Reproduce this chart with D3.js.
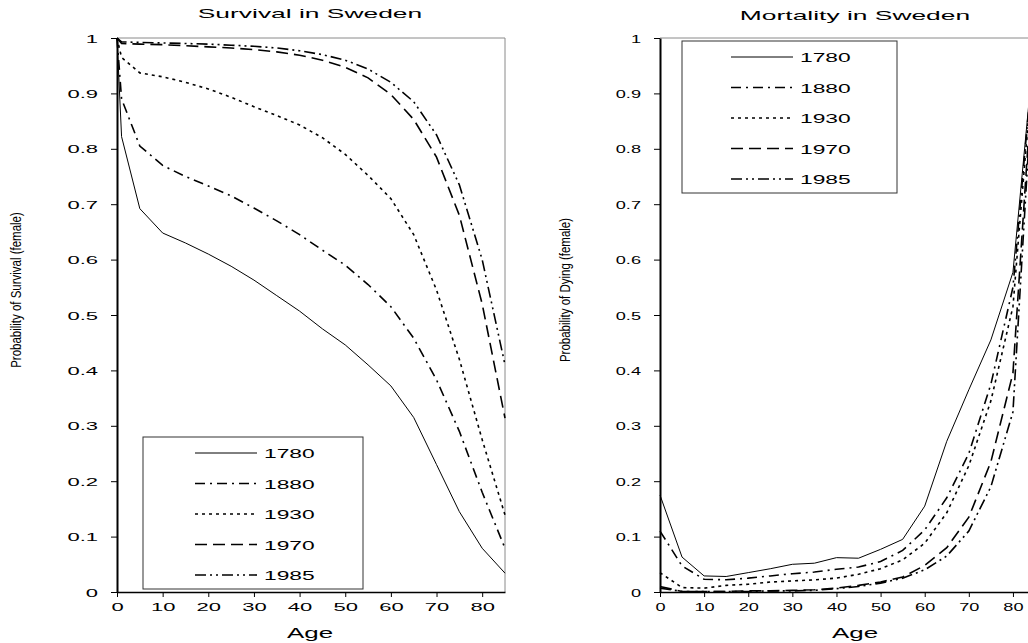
<!DOCTYPE html>
<html>
<head>
<meta charset="utf-8">
<script src="https://cdn.jsdelivr.net/npm/d3@7"></script>
<style>
  body { margin: 0; background: #fff; }
  svg { display: block; font-family: "Liberation Sans", Arial, sans-serif; }
</style>
</head>
<body>
<div id="chart"></div>
<script>
// ages used in the survival table and in the mortality table
const survivalAges = [0, 1, 5, 10, 15, 20, 25, 30, 35, 40, 45, 50, 55, 60, 65, 70, 75, 80, 85];
const mortalityAges = [0, 5, 10, 15, 20, 25, 30, 35, 40, 45, 50, 55, 60, 65, 70, 75, 80, 85];

const years = ["1780", "1880", "1930", "1970", "1985"];

// probability of survival (female)
const survival1780 = [1, 0.822, 0.692, 0.648, 0.630, 0.610, 0.588, 0.563, 0.535, 0.507, 0.475, 0.446, 0.410, 0.372, 0.315, 0.230, 0.145, 0.079, 0.034];
const survival1880 = [1, 0.890, 0.805, 0.770, 0.750, 0.733, 0.715, 0.693, 0.670, 0.645, 0.617, 0.590, 0.555, 0.515, 0.458, 0.383, 0.290, 0.180, 0.079];
const survival1930 = [1, 0.965, 0.937, 0.930, 0.920, 0.908, 0.893, 0.876, 0.860, 0.843, 0.820, 0.790, 0.752, 0.710, 0.645, 0.545, 0.420, 0.275, 0.139];
const survival1970 = [1, 0.990, 0.989, 0.988, 0.986, 0.984, 0.982, 0.979, 0.975, 0.969, 0.960, 0.947, 0.928, 0.898, 0.853, 0.785, 0.680, 0.520, 0.314];
const survival1985 = [1, 0.993, 0.992, 0.991, 0.990, 0.989, 0.987, 0.985, 0.982, 0.977, 0.970, 0.960, 0.944, 0.920, 0.885, 0.825, 0.735, 0.600, 0.410];

// probability of dying (female)
const mortality1780 = [0.175, 0.063, 0.029, 0.028, 0.035, 0.042, 0.050, 0.052, 0.062, 0.061, 0.077, 0.095, 0.155, 0.272, 0.365, 0.455, 0.577, 1];
const mortality1880 = [0.110, 0.047, 0.023, 0.022, 0.025, 0.029, 0.033, 0.036, 0.041, 0.045, 0.055, 0.075, 0.112, 0.170, 0.250, 0.375, 0.550, 1];
const mortality1930 = [0.035, 0.008, 0.007, 0.012, 0.014, 0.018, 0.020, 0.022, 0.025, 0.032, 0.042, 0.058, 0.088, 0.143, 0.228, 0.345, 0.515, 1];
const mortality1970 = [0.010, 0.001, 0.001, 0.001, 0.002, 0.002, 0.003, 0.004, 0.007, 0.012, 0.018, 0.027, 0.048, 0.080, 0.135, 0.235, 0.395, 1];
const mortality1985 = [0.007, 0.001, 0.001, 0.001, 0.001, 0.002, 0.002, 0.003, 0.006, 0.010, 0.016, 0.025, 0.040, 0.065, 0.110, 0.190, 0.325, 1];

const yTicks = [0, 0.1, 0.2, 0.3, 0.4, 0.5, 0.6, 0.7, 0.8, 0.9, 1];
const xTicks = [0, 10, 20, 30, 40, 50, 60, 70, 80];

// line styles per year
const dashes = {
    "1780": null,
    "1880": "10,5,2,5",
    "1930": "3,4",
    "1970": "12,6",
    "1985": "11,4,2,4,2,4"
};

const W = 1028, H = 643;

const svg = d3.select("#chart").append("svg")
    .attr("width", W)
    .attr("height", H);

// draws text stretched sideways like the original export
function wideText(g, x, y, str, size, sx, anchor) {
    return g.append("text")
        .attr("transform", "translate(" + x + "," + y + ") scale(" + sx + ",1)")
        .attr("text-anchor", anchor || "middle")
        .style("font-size", size + "px")
        .attr("fill", "#000")
        .text(str);
}

function drawPanel(p) {
    let x = d3.scaleLinear().domain([0, 85]).range([p.left, p.right]);
    let y = d3.scaleLinear().domain([0, 1]).range([592, 38]);

    let g = svg.append("g");

    // grey frame (top and right)
    g.append("path")
        .attr("d", "M" + x(0) + "," + y(1) + "H" + x(85) + "V" + y(0))
        .attr("fill", "none")
        .attr("stroke", "#8a8a8a")
        .attr("stroke-width", 1);

    // series
    let line = d3.line()
        .x((d, i) => x(p.ages[i]))
        .y(d => y(d));

    years.forEach((yr, i) => {
        g.append("path")
            .datum(p.series[i])
            .attr("d", line)
            .attr("fill", "none")
            .attr("stroke", "#000")
            .attr("stroke-width", yr === "1780" ? 1 : 1.6)
            .attr("stroke-dasharray", dashes[yr]);
    });

    // axes
    let yAxis = d3.axisLeft(y)
        .tickValues(yTicks)
        .tickSize(6)
        .tickSizeOuter(0)
        .tickFormat(d => d === 0 ? "0" : d === 1 ? "1" : d3.format(".1f")(d));

    let yg = g.append("g")
        .attr("transform", "translate(" + x(0) + ",0)")
        .call(yAxis);
    yg.select(".domain").attr("stroke", "#000").attr("stroke-width", 2);
    yg.selectAll(".tick line").attr("stroke", "#000");
    yg.selectAll(".tick text")
        .attr("x", null).attr("dy", null)
        .attr("transform", "translate(-19,4) scale(" + p.tickScale + ",1)")
        .attr("text-anchor", "end")
        .style("font-size", "11px")
        .attr("font-family", null);

    let xAxis = d3.axisBottom(x)
        .tickValues(xTicks)
        .tickSize(5)
        .tickSizeOuter(0)
        .tickFormat(d3.format("d"));

    let xg = g.append("g")
        .attr("transform", "translate(0," + y(0) + ")")
        .call(xAxis);
    xg.select(".domain").attr("stroke", "#000").attr("stroke-width", 1.5);
    xg.selectAll(".tick line").attr("stroke", "#000");
    xg.selectAll(".tick text")
        .attr("y", null).attr("dy", null)
        .attr("transform", "translate(0,19) scale(" + p.tickScale + ",1)")
        .style("font-size", "11px")
        .attr("font-family", null);

    // titles
    wideText(g, p.titleX, p.titleY, p.title, 12, 2.2);
    wideText(g, p.titleX, 638, "Age", 14, 1.85);

    // condensed y label
    g.append("text")
        .attr("transform", "translate(" + p.labelX + ",290) rotate(-90) scale(0.82,1)")
        .attr("text-anchor", "middle")
        .style("font-size", "14px")
        .text(p.yLabel);

    // legend
    let lg = g.append("g");
    lg.append("rect")
        .attr("x", p.legend.x).attr("y", p.legend.y)
        .attr("width", p.legend.w).attr("height", p.legend.h)
        .attr("fill", "#fff")
        .attr("stroke", "#333")
        .attr("stroke-width", 1);

    years.forEach((yr, i) => {
        let ly = p.legend.y + 16 + i * 30.5;
        lg.append("line")
            .attr("x1", p.legend.x + p.legend.sx).attr("x2", p.legend.x + p.legend.sx + 62)
            .attr("y1", ly).attr("y2", ly)
            .attr("stroke", "#000")
            .attr("stroke-width", yr === "1780" ? 1 : 1.6)
            .attr("stroke-dasharray", dashes[yr]);
        wideText(lg, p.legend.x + p.legend.sx + 69, ly + 5, yr, 12, 1.9, "start");
    });
}

drawPanel({
    left: 117, right: 505,
    ages: survivalAges,
    series: [survival1780, survival1880, survival1930, survival1970, survival1985],
    title: "Survival in Sweden", titleX: 310, titleY: 18,
    yLabel: "Probability of Survival (female)", labelX: 21,
    tickScale: 2.0,
    legend: {x: 143, y: 437, w: 220, h: 152, sx: 52}
});

drawPanel({
    left: 660, right: 1035,
    ages: mortalityAges,
    series: [mortality1780, mortality1880, mortality1930, mortality1970, mortality1985],
    title: "Mortality in Sweden", titleX: 855, titleY: 20,
    yLabel: "Probability of Dying (female)", labelX: 570,
    tickScale: 1.65,
    legend: {x: 682, y: 41, w: 215, h: 152, sx: 49}
});
</script>
</body>
</html>
